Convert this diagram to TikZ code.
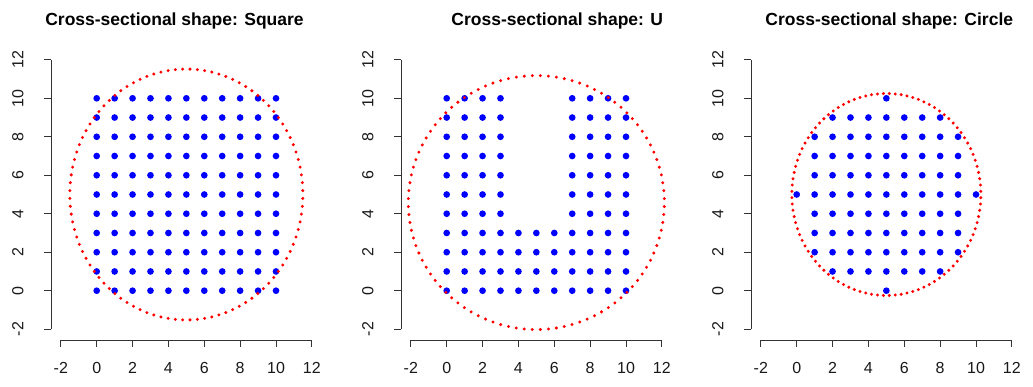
\documentclass[tikz,border=0pt]{standalone}
\usepackage{fontspec}
\setmainfont{Liberation Sans}
\tikzset{
  bluept/.style={fill=blue, draw=none},
  redpt/.style={fill=red, draw=none},
  axisline/.style={draw=black!80, line width=0.9pt},
  ticklabel/.style={font=\fontsize{16}{18}\selectfont, text=black!90, inner sep=0pt, anchor=base},
  titletext/.style={font=\fontsize{17.5}{20}\selectfont\bfseries, inner sep=0pt, anchor=base},
  panel/.style={x=17.93pt, y=19.24pt}
}
\newcommand{\drawaxes}[1]{%
  \draw[axisline] (-2,-2.58) -- (12,-2.58);
  \foreach \v in {-2,0,...,12} {
    \draw[axisline] (\v,-2.58) -- ++(0,-6.5pt);
    \node[ticklabel] (#1x\v) at ([yshift=-32.8pt]\v,-2.58) {\v};
  }
  \draw[axisline] (-2.55,-2) -- (-2.55,12);
  \foreach \v in {-2,0,...,12} {
    \draw[axisline] (-2.55,\v) -- ++(-6.5pt,0);
    \node[ticklabel, rotate=90] (#1y\v) at ([xshift=-27.7pt]-2.55,\v) {\v};
  }
}
% centre x, centre y, radius x, radius y
\newcommand{\redring}[4]{%
  \foreach \k in {0,...,99} {
    \fill[redpt] ({#1+#3*cos(3.6*\k+1.8)},{#2+#4*sin(3.6*\k+1.8)}) circle[radius=1.65pt];
  }
}
\begin{document}
\begin{tikzpicture}
\useasboundingbox[fill=white] (0,0) rectangle (1033pt,386pt);

% Panel 1: Square
\begin{scope}[shift={(96.7pt,95.3pt)}, panel]
  \drawaxes{a}
  \foreach \i in {0,...,10} {
    \foreach \j in {0,...,10} {
      \fill[bluept] (\i,\j) circle[radius=3.35pt];
    }
  }
  \redring{5}{5}{6.5}{6.52}
\end{scope}

% Panel 2: U
\begin{scope}[shift={(446.7pt,95.3pt)}, panel]
  \drawaxes{b}
  \foreach \i in {0,1,2,3,7,8,9,10} {
    \foreach \j in {0,...,10} {
      \fill[bluept] (\i,\j) circle[radius=3.35pt];
    }
  }
  \foreach \i in {4,5,6} {
    \foreach \j in {0,...,3} {
      \fill[bluept] (\i,\j) circle[radius=3.35pt];
    }
  }
  \redring{5}{4.58}{7.14}{6.6}
\end{scope}

% Panel 3: Circle
\begin{scope}[shift={(796.7pt,95.3pt)}, panel]
  \drawaxes{c}
  \foreach \i in {0,...,10} {
    \foreach \j in {0,...,10} {
      \pgfmathtruncatemacro\dd{(\i-5)*(\i-5)+(\j-5)*(\j-5)}
      \ifnum\dd<26
        \fill[bluept] (\i,\j) circle[radius=3.35pt];
      \fi
    }
  }
  \redring{5}{5}{5.27}{5.25}
\end{scope}

\node[titletext] (t1) at (174.5pt,360.5pt) {Cross-sectional shape: Square};
\node[titletext] (t2) at (557.3pt,360.5pt) {Cross-sectional shape: U};
\node[titletext] (t3) at (889.3pt,360.5pt) {Cross-sectional shape: Circle};
\end{tikzpicture}
\end{document}
